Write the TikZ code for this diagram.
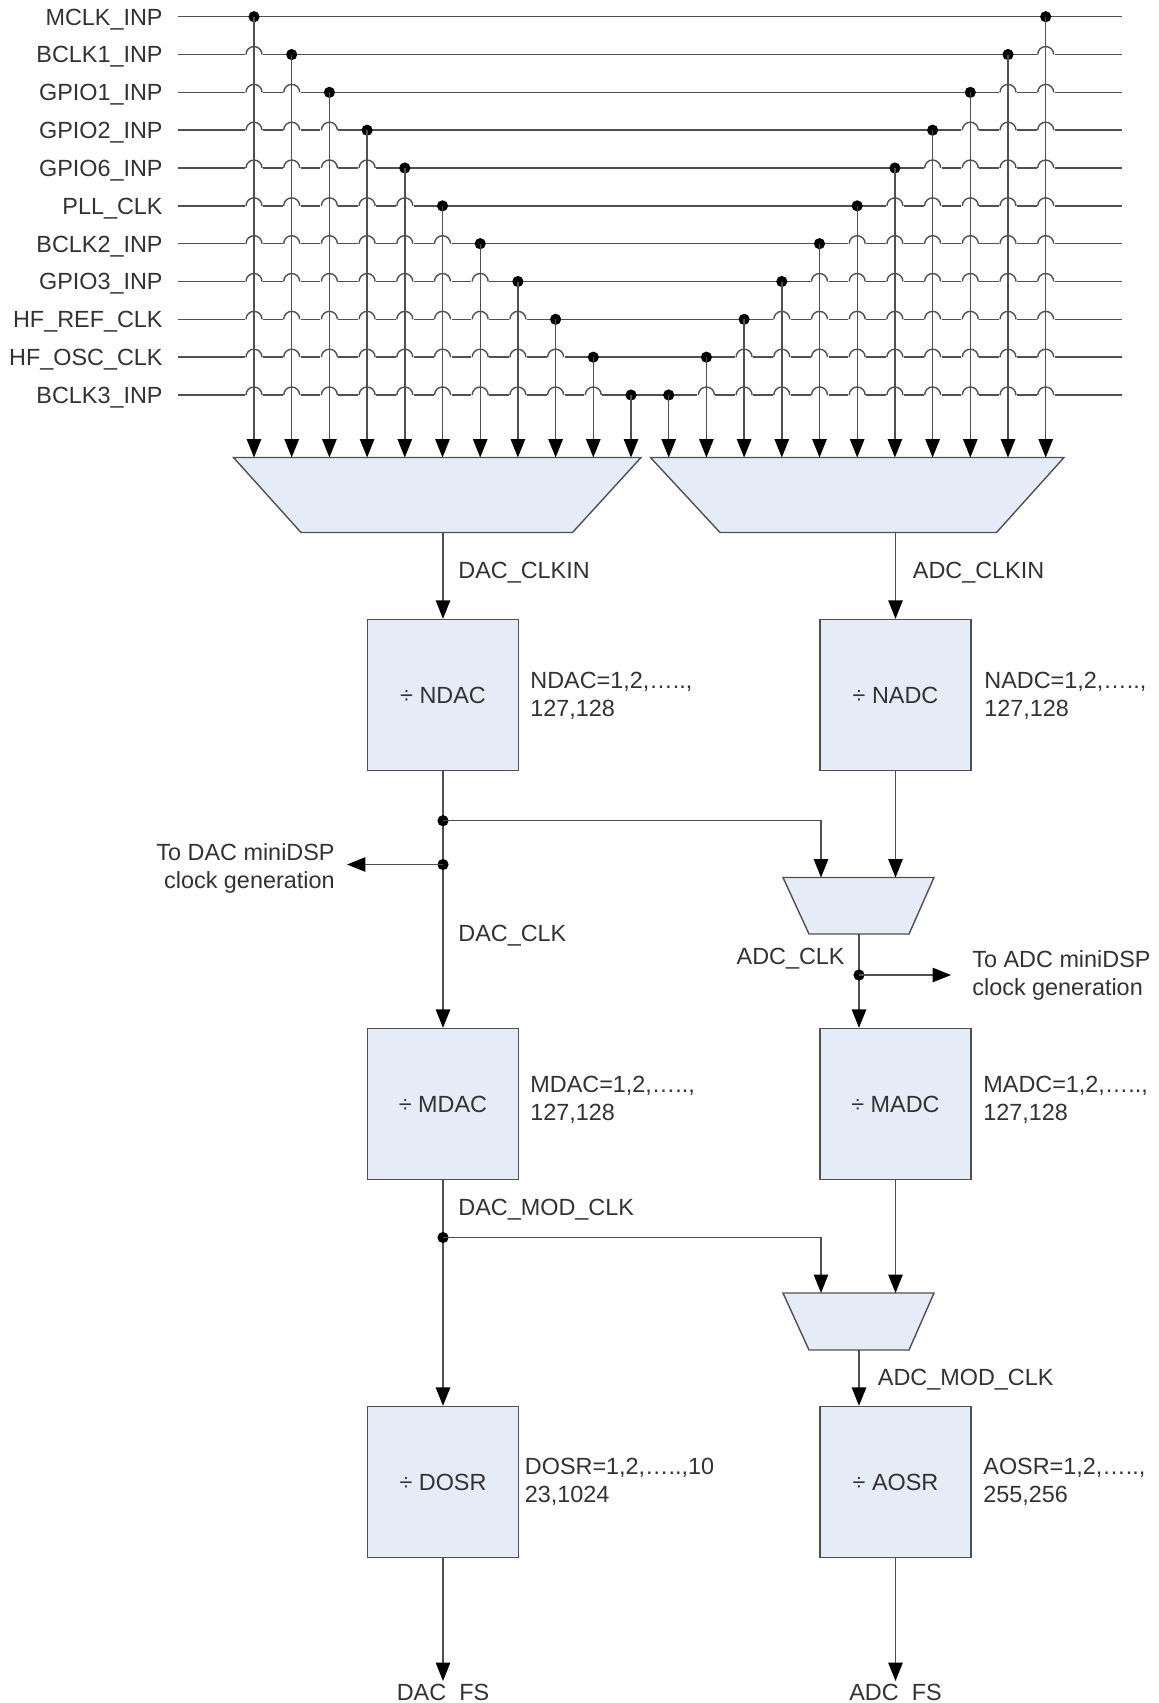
\documentclass[tikz,border=0pt]{standalone}
\usepackage{fontspec}
\setmainfont{Liberation Sans}
\usetikzlibrary{arrows.meta}
\definecolor{muxfill}{RGB}{229,236,247}
\definecolor{wiregray}{RGB}{80,80,80}
\definecolor{labelgray}{RGB}{50,50,50}
\tikzset{
  wire/.style={draw=wiregray,line width=0.7pt},
  feed/.style={wire,-{Triangle[width=7.2pt,length=9.2pt,color=black]}},
  blk/.style={draw=wiregray,line width=0.7pt,fill=muxfill},
  divbox/.style={blk,minimum width=75.5pt,minimum height=75.5pt,inner sep=0pt,text=labelgray,font=\fontsize{11.7}{14}\selectfont},
  lbl/.style={text=labelgray,inner sep=0pt,font=\fontsize{11.7}{14}\selectfont},
  tap/.style={circle,fill=black,inner sep=0pt,minimum size=5.6pt},
}
\begin{document}
\begin{tikzpicture}[x=0.5pt,y=-0.5pt]
\useasboundingbox (0,0) rectangle (1159,1703);
% clock inputs
\foreach \name [count=\r from 0] in {MCLK\_INP,BCLK1\_INP,GPIO1\_INP,GPIO2\_INP,GPIO6\_INP,PLL\_CLK,BCLK2\_INP,GPIO3\_INP,HF\_REF\_CLK,HF\_OSC\_CLK,BCLK3\_INP}{
  \pgfmathsetmacro\y{16.7+37.83*\r}
  \node[lbl,anchor=base east] (in\r) at (163,\y+8.4) {\name};
  \draw[wire] (178,\y) -- (1122,\y);
}
% hops where a column runs past a lower input
\foreach \c in {0,...,21}{
  \pgfmathtruncatemacro\rc{\c<11 ? \c : 21-\c}
  \pgfmathsetmacro\x{254+37.7*\c}
  \foreach \r in {0,...,10}{
    \ifnum\r>\rc
      \pgfmathsetmacro\y{16.7+37.83*\r}
      \fill[white] (\x-9,\y-2) rectangle (\x+9,\y+2);
      \draw[wire] (\x-8,\y) arc[start angle=180,end angle=0,radius=4pt];
    \fi
  }
}
% the two input selectors
\filldraw[blk] (233.5,457.5) -- (641,457.5) -- (572.5,532.5) -- (301,532.5) -- cycle;
\filldraw[blk] (650.5,457.5) -- (1064,457.5) -- (996.5,532.5) -- (720,532.5) -- cycle;
\coordinate (dacsel) at (443,532.5);
\coordinate (adcsel) at (895.5,532.5);
% taps and feeds
\foreach \c in {0,...,21}{
  \pgfmathtruncatemacro\rc{\c<11 ? \c : 21-\c}
  \pgfmathsetmacro\x{254+37.7*\c}
  \pgfmathsetmacro\y{16.7+37.83*\rc}
  \node[tap] (t\c) at (\x,\y) {};
  \coordinate (s\c) at (\x,457.5);
  \draw[feed] (t\c.center) -- (s\c);
}
% dividers
\node[divbox] (ndac) at (443,695) {÷ NDAC};
\node[divbox] (nadc) at (895.5,695) {÷ NADC};
\node[divbox] (mdac) at (443,1104) {÷ MDAC};
\node[divbox] (madc) at (895.5,1104) {÷ MADC};
\node[divbox] (dosr) at (443,1482) {÷ DOSR};
\node[divbox] (aosr) at (895.5,1482) {÷ AOSR};
% small selectors
\filldraw[blk] (783,877.5) -- (934,877.5) -- (909,934) -- (809,934) -- cycle;
\coordinate (clkselin1) at (821,877.5);
\coordinate (clkselin2) at (895.5,877.5);
\coordinate (clkselout) at (859,934);
\filldraw[blk] (783,1293) -- (934,1293) -- (909,1350) -- (809,1350) -- cycle;
\coordinate (modselin1) at (821,1293);
\coordinate (modselin2) at (895.5,1293);
\coordinate (modselout) at (859,1350);
% DAC path
\draw[feed] (dacsel) -- (ndac);
\draw[feed] (ndac) -- (mdac);
\node[tap] (dactap1) at (443,820.7) {};
\node[tap] (dactap2) at (443,864.5) {};
\coordinate (dacdsp) at (347,864.5);
\draw[feed] (dactap2.center) -- (dacdsp);
\draw[feed] (dactap1.center) -| (clkselin1);
\draw[feed] (mdac) -- (dosr);
\node[tap] (modtap) at (443,1237.5) {};
\draw[feed] (modtap.center) -| (modselin1);
\coordinate (dacfs) at (443,1681);
\draw[feed] (dosr) -- (dacfs);
% ADC path
\draw[feed] (adcsel) -- (nadc);
\draw[feed] (nadc) -- (clkselin2);
\draw[feed] (clkselout) -- (clkselout |- madc.north);
\node[tap] (adctap) at (859,975) {};
\coordinate (adcdsp) at (951,975);
\draw[feed] (adctap.center) -- (adcdsp);
\draw[feed] (madc) -- (modselin2);
\draw[feed] (modselout) -- (modselout |- aosr.north);
\coordinate (adcfs) at (895.5,1681);
\draw[feed] (aosr) -- (adcfs);
% labels
\node[lbl,anchor=base west] at (458,578) {DAC\_CLKIN};
\node[lbl,anchor=base west] at (912.5,578) {ADC\_CLKIN};
\node[lbl,anchor=north west,align=left] at (530,671.6) {NDAC=1,2,…..,\\127,128};
\node[lbl,anchor=north west,align=left] at (984,671.6) {NADC=1,2,…..,\\127,128};
\node[lbl,anchor=north east,align=right] at (335,843.2) {To DAC miniDSP\\clock generation};
\node[lbl,anchor=base west] at (458,941) {DAC\_CLK};
\node[lbl,anchor=base east] at (845,964.5) {ADC\_CLK};
\node[lbl,anchor=north west,align=left] at (972,950.6) {To ADC miniDSP\\clock generation};
\node[lbl,anchor=north west,align=left] at (530,1075.6) {MDAC=1,2,…..,\\127,128};
\node[lbl,anchor=north west,align=left] at (983,1075.6) {MADC=1,2,…..,\\127,128};
\node[lbl,anchor=base west] at (458,1215) {DAC\_MOD\_CLK};
\node[lbl,anchor=base west] at (877.5,1385.5) {ADC\_MOD\_CLK};
\node[lbl,anchor=north west,align=left] at (524.5,1457.6) {DOSR=1,2,…..,10\\23,1024};
\node[lbl,anchor=north west,align=left] at (983,1457.6) {AOSR=1,2,…..,\\255,256};
\node[lbl,anchor=base] at (443,1700) {DAC\_FS};
\node[lbl,anchor=base] at (895.5,1700) {ADC\_FS};
\end{tikzpicture}
\end{document}
